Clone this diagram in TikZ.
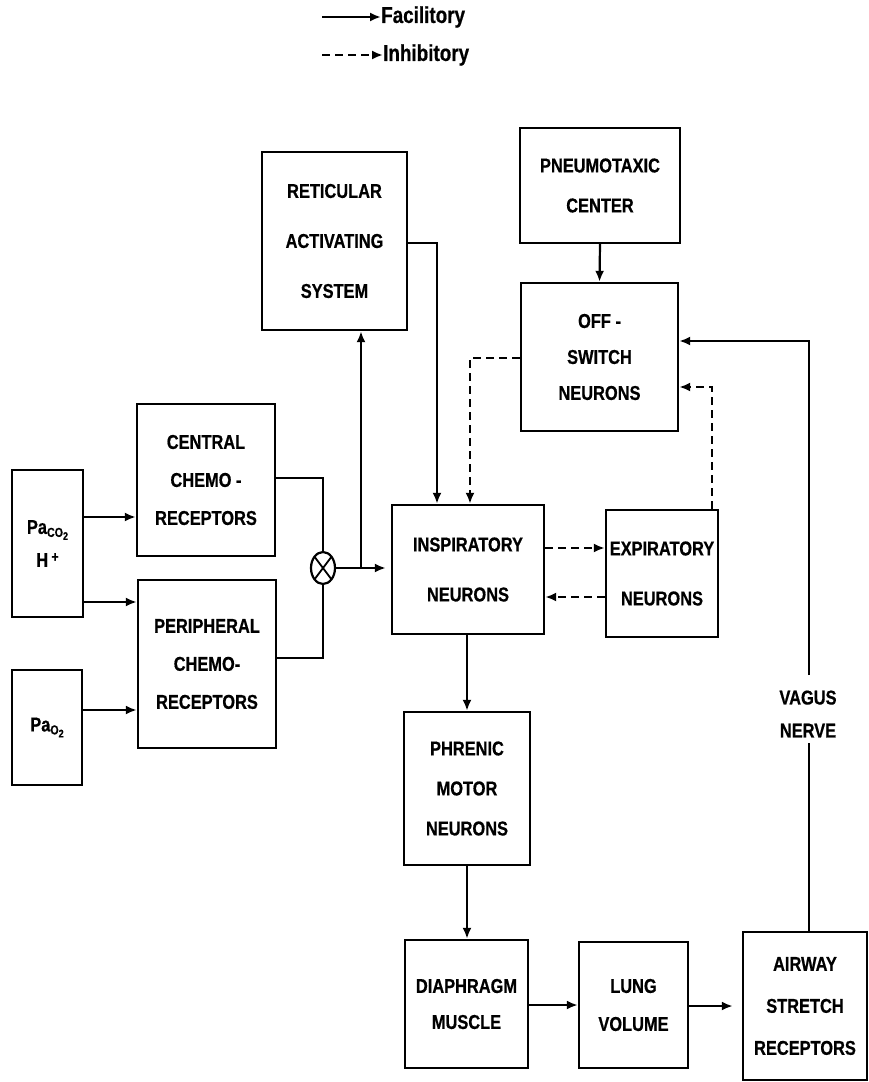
\documentclass[tikz,border=0pt]{standalone}
\usepackage{fontspec}
\setmainfont{Liberation Sans}[FakeStretch=0.82, BoldFeatures={FakeBold=0.6}]
\usetikzlibrary{arrows.meta,shapes.geometric,calc}
\tikzset{
  box/.style={draw, line width=2.4pt, align=center, inner sep=0pt, font=\bfseries\fontsize{20}{#1}\selectfont},
  box/.default=38,
  conn/.style={line width=2.2pt},
  tip/.style={-{Latex[length=11pt,width=9pt]}},
  fac/.style={conn, tip},
  inh/.style={conn, dash pattern=on 8pt off 5pt, tip},
  leg/.style={anchor=west, inner sep=0pt, font=\bfseries\fontsize{23}{23}\selectfont},
}
\begin{document}
\begin{tikzpicture}[x=1pt,y=-1pt]
\useasboundingbox (0,0) rectangle (869,1082);

% legend
\node[leg] (legf) at (381,17) {Facilitory};
\node[leg] (legi) at (383,55) {Inhibitory};
\coordinate (lf0) at (322,17);
\coordinate (li0) at (322,55);
\draw[fac] (lf0) -- (legf.west);
\draw[inh] (li0) -- (legi.west);

% boxes
\node[box=50, minimum width=145, minimum height=178] (ras) at (334.5,241) {RETICULAR\\ACTIVATING\\SYSTEM};
\node[box=40, minimum width=160, minimum height=115] (pneu) at (600,185.5) {PNEUMOTAXIC\\CENTER};
\node[box=36, minimum width=157, minimum height=148] (off) at (599.5,357) {OFF -\\SWITCH\\NEURONS};
\node[box=38, minimum width=138, minimum height=152] (cen) at (206,480) {CENTRAL\\CHEMO -\\RECEPTORS};
\node[box=38, minimum width=138, minimum height=168] (per) at (207,664) {PERIPHERAL\\CHEMO-\\RECEPTORS};
\node[box=33, minimum width=71, minimum height=147] (pco) at (47.5,543.5) {Pa\raisebox{-3pt}{\fontsize{13}{13}\selectfont CO\raisebox{-3pt}{\fontsize{11}{11}\selectfont 2}}\\H\,\raisebox{5pt}{\fontsize{15}{15}\selectfont +}};
\node[box, minimum width=70, minimum height=115] (po) at (47,727.5) {Pa\raisebox{-3pt}{\fontsize{13}{13}\selectfont O\raisebox{-3pt}{\fontsize{11}{11}\selectfont 2}}};
\node[box=50, minimum width=152, minimum height=129] (insp) at (468,569.5) {INSPIRATORY\\NEURONS};
\node[box=50, minimum width=112, minimum height=127] (exp) at (662,573.5) {EXPIRATORY\\NEURONS};
\node[box=40, minimum width=126, minimum height=153] (phr) at (467,788.5) {PHRENIC\\MOTOR\\NEURONS};
\node[box=36, minimum width=123, minimum height=128] (dia) at (466.5,1004) {DIAPHRAGM\\MUSCLE};
\node[box=38, minimum width=109, minimum height=126] (lung) at (633.5,1005) {LUNG\\VOLUME};
\node[box=42, minimum width=124, minimum height=148] (air) at (805,1006) {AIRWAY\\STRETCH\\RECEPTORS};

% summing junction
\node[draw, line width=2.2pt, ellipse, minimum width=24, minimum height=32, inner sep=0pt,
  path picture={\draw[line width=1.8pt] (path picture bounding box.north west) -- (path picture bounding box.south east)
     (path picture bounding box.north east) -- (path picture bounding box.south west);}] (sum) at (323,568) {};

% chemoreceptor inputs
\draw[fac] (pco.east |- 0,517) -- (cen.west |- 0,517);
\draw[fac] (pco.east |- 0,602) -- (per.west |- 0,602);
\draw[fac] (po.east |- 0,710) -- (per.west |- 0,710);
\draw[conn] (cen.east |- 0,478) -| (sum.north);
\draw[conn] (per.east |- 0,658) -| (sum.south);
\draw[fac, shorten >=5pt] (sum.east) -- (insp.west |- sum.east);
\coordinate (jr) at (361,568);
\draw[fac] (jr) -- (ras.south -| jr);

% reticular to inspiratory
\draw[fac] (ras.east |- 0,243) -| (insp.north -| 437,0);

% off-switch to inspiratory (inhibitory)
\draw[inh] (off.west |- 0,358) -| (insp.north -| 470,0);

% pneumotaxic to off-switch
\draw[fac] (pneu.south) -- (off.north);

% inspiratory <-> expiratory
\draw[inh] (insp.east |- 0,548) -- (exp.west |- 0,548);
\draw[inh] (exp.west |- 0,597) -- (insp.east |- 0,597);

% expiratory to off-switch
\draw[inh] (exp.north -| 712,0) |- (off.east |- 0,387);

% vagus nerve
\node[font=\bfseries\fontsize{20}{33}\selectfont, align=center, inner sep=0pt] (vagus) at (808,714) {VAGUS\\NERVE};
\coordinate (vt) at (809,675);
\coordinate (vb) at (809,743);
\draw[conn] (air.north -| vb) -- (vb);
\draw[fac] (vt) |- (off.east |- 0,341);

% motor chain
\draw[fac] (insp.south -| 467,0) -- (phr.north -| 467,0);
\draw[fac] (phr.south -| 467,0) -- (dia.north -| 467,0);
\draw[fac] (dia.east |- 0,1005) -- (lung.west |- 0,1005);
\draw[fac, shorten >=9pt] (lung.east |- 0,1006) -- (air.west |- 0,1006);
\end{tikzpicture}
\end{document}
